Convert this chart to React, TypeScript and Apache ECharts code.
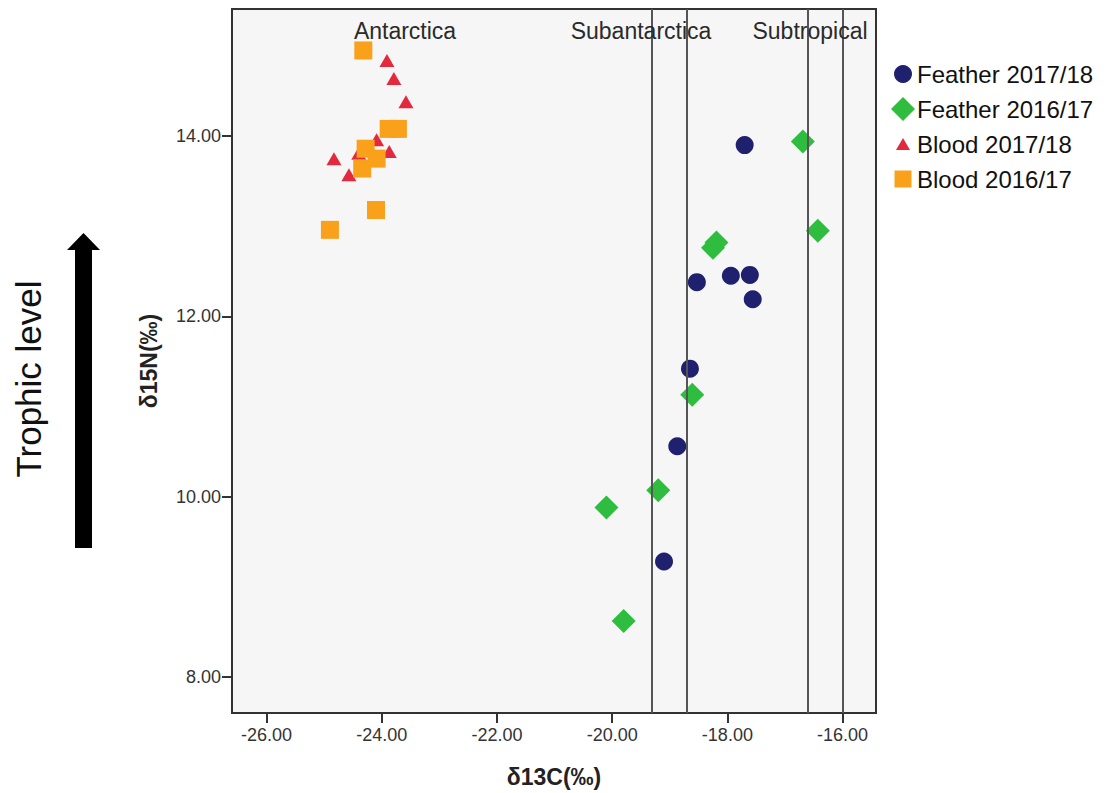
import React, { useEffect, useRef } from "react";
import * as echarts from "echarts";

const seriesNames = ["Feather 2017/18", "Feather 2016/17", "Blood 2017/18", "Blood 2016/17"];

const feather1718 = [
  [-17.7, 13.9], [-17.94, 12.45], [-17.61, 12.46], [-17.56, 12.19],
  [-18.53, 12.38], [-18.65, 11.42], [-18.87, 10.56], [-19.1, 9.28],
];
const feather1617 = [
  [-16.69, 13.94], [-16.43, 12.95], [-18.25, 12.76], [-18.19, 12.82],
  [-18.61, 11.13], [-19.2, 10.07], [-20.1, 9.88], [-19.8, 8.62],
];
const blood1718 = [
  [-23.91, 14.84], [-23.79, 14.64], [-23.58, 14.38], [-24.09, 13.96],
  [-23.87, 13.83], [-24.4, 13.81], [-24.83, 13.75], [-24.57, 13.57],
];
const blood1617 = [
  [-24.32, 14.95], [-23.88, 14.08], [-23.72, 14.08], [-24.28, 13.86],
  [-24.09, 13.75], [-24.34, 13.64], [-24.1, 13.18], [-24.9, 12.96],
];

const xTicks = [-26, -24, -22, -20, -18, -16];
const yTicks = [8, 10, 12, 14];
const boundaryLines = [-19.31, -18.7, -16.6, -16.0];
const regionLabels = ["Antarctica", "Subantarctica", "Subtropical"];

const FONT = "'Liberation Sans', Arial, sans-serif";

export default function App() {
  const ref = useRef<HTMLDivElement>(null);

  useEffect(() => {
    if (!ref.current) return;
    const chart = echarts.init(ref.current, null, { renderer: "svg" });

    const colors = ["#1f206e", "#2fbd3f", "#e2293d", "#f9a11b"];
    const symbols = ["circle", "diamond", "triangle", "rect"];
    const sizes: any[] = [18, 24, [15, 13], 18];
    const datas = [feather1718, feather1617, blood1718, blood1617];
    const legendIcon = [
      { w: 18, h: 18 },
      { w: 24, h: 24 },
      { w: 14, h: 12 },
      { w: 17, h: 17 },
    ];
    const legendRowY = [75, 110, 145, 180];

    const series: any[] = datas.map((d, i) => ({
      name: seriesNames[i],
      type: "scatter",
      data: d,
      symbol: symbols[i],
      symbolSize: sizes[i],
      itemStyle: { color: colors[i], opacity: 1 },
      z: 3 + i,
    }));
    series.push({
      name: "boundaries",
      type: "scatter",
      data: [],
      silent: true,
      markLine: {
        silent: true,
        symbol: "none",
        label: { show: false },
        lineStyle: { color: "#555", width: 2, type: "solid" },
        data: boundaryLines.map((v) => ({ xAxis: v })),
      },
      z: 2,
    });

    const legends = seriesNames.map((n, i) => ({
      data: [n],
      orient: "vertical",
      left: 903 - legendIcon[i].w / 2,
      top: legendRowY[i] - 13,
      padding: 0,
      itemWidth: legendIcon[i].w,
      itemHeight: legendIcon[i].h,
      itemGap: 0,
      selectedMode: false,
      textStyle: {
        fontFamily: FONT,
        fontSize: 24,
        color: "#111",
        padding: [0, 0, 0, 9 - legendIcon[i].w / 2],
      },
    }));

    const regionX = [405, 641, 810];

    chart.setOption({
      animation: false,
      backgroundColor: "#ffffff",
      textStyle: { fontFamily: FONT },
      grid: {
        left: 232,
        right: 238,
        top: 9,
        bottom: 77,
        show: true,
        backgroundColor: "#f6f6f6",
        borderColor: "#333",
        borderWidth: 2,
      },
      legend: legends,
      xAxis: {
        type: "value",
        min: -26.6,
        max: -15.42,
        name: "δ13C(‰)",
        nameLocation: "middle",
        nameGap: 52,
        nameTextStyle: { fontFamily: FONT, fontSize: 23, fontWeight: "bold", color: "#222" },
        axisLine: { show: true, lineStyle: { color: "#333", width: 2 } },
        axisTick: { show: true, inside: false, length: 10, lineStyle: { color: "#333", width: 2 }, customValues: xTicks },
        axisLabel: {
          customValues: xTicks,
          formatter: (v: number) => v.toFixed(2),
          fontSize: 18,
          color: "#333",
          margin: 13,
          fontFamily: FONT,
        },
        splitLine: { show: false },
      },
      yAxis: {
        type: "value",
        min: 7.6,
        max: 15.41,
        name: "δ15N(‰)",
        nameLocation: "middle",
        nameGap: 72,
        nameTextStyle: { fontFamily: FONT, fontSize: 23, fontWeight: "bold", color: "#222" },
        axisLine: { show: true, lineStyle: { color: "#333", width: 2 } },
        axisTick: { show: true, inside: false, length: 10, lineStyle: { color: "#333", width: 2 }, customValues: yTicks },
        axisLabel: {
          customValues: yTicks,
          formatter: (v: number) => v.toFixed(2),
          fontSize: 18,
          color: "#333",
          margin: 11,
          fontFamily: FONT,
        },
        splitLine: { show: false },
      },
      graphic: [
        ...regionLabels.map((t, i) => ({
          type: "text",
          x: regionX[i],
          y: 31,
          z: 10,
          style: {
            text: t,
            fontFamily: FONT,
            fontSize: 23,
            fill: "#2a2a2a",
            align: "center",
            verticalAlign: "middle",
          },
        })),
        {
          type: "polygon",
          shape: {
            points: [
              [75, 548], [92, 548], [92, 250], [100, 250], [83.5, 233], [67, 250], [75, 250],
            ],
          },
          style: { fill: "#000" },
        },
        {
          type: "text",
          x: 28,
          y: 379,
          rotation: Math.PI / 2,
          style: {
            text: "Trophic level",
            fontFamily: FONT,
            fontSize: 35,
            fill: "#111",
            align: "center",
            verticalAlign: "middle",
          },
        },
      ],
      series,
    });

    return () => chart.dispose();
  }, []);

  return (
    <div
      ref={ref}
      style={{ position: "fixed", left: 0, top: 0, width: 1114, height: 793 }}
    />
  );
}
